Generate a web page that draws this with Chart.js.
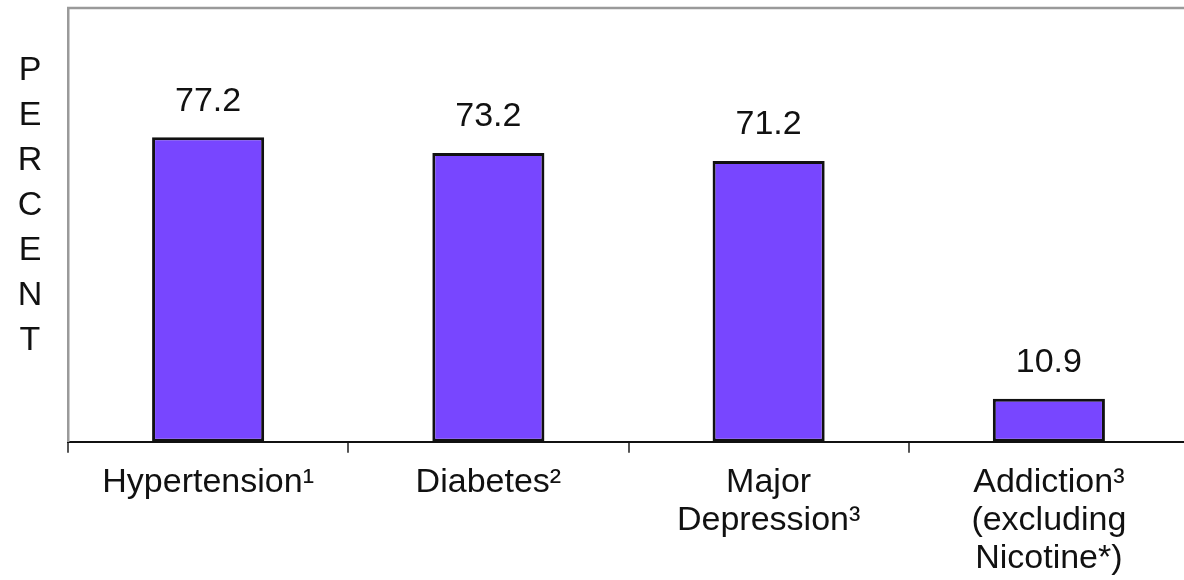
<!DOCTYPE html>
<html>
<head>
<meta charset="utf-8">
<script src="https://cdn.jsdelivr.net/npm/chart.js@4.4.1/dist/chart.umd.min.js"></script>
<style>
  html, body { margin: 0; padding: 0; background: #ffffff; overflow: hidden; }
  #wrap { position: relative; width: 1184px; height: 580px; overflow: hidden; }
</style>
</head>
<body>
<div id="wrap"><canvas id="chart" width="1200" height="593"></canvas></div>
<script>
// Conditions and their percentages
const categories = [
  ['Hypertension\u00B9'],
  ['Diabetes\u00B2'],
  ['Major', 'Depression\u00B3'],
  ['Addiction\u00B3', '(excluding', 'Nicotine*)']
];
const percentValues = [77.2, 73.2, 71.2, 10.9];
const axisTitleLetters = ['P', 'E', 'R', 'C', 'E', 'N', 'T'];
const yAxisMax = 110;

const FONT = '"Liberation Sans", Arial, Helvetica, sans-serif';

// Draws the grey frame on top, the stacked "PERCENT" letters and the value labels
const decorations = {
  id: 'decorations',
  afterDraw(chart) {
    const ctx = chart.ctx;
    const area = chart.chartArea;
    ctx.save();

    // top frame line
    ctx.strokeStyle = '#9a9a9a';
    ctx.lineWidth = 2.5;
    ctx.beginPath();
    ctx.moveTo(area.left - 1, area.top);
    ctx.lineTo(area.right + 20, area.top);
    ctx.stroke();

    // vertical axis title, one letter per row
    ctx.fillStyle = '#111111';
    ctx.font = '34px ' + FONT;
    ctx.textAlign = 'center';
    ctx.textBaseline = 'middle';
    axisTitleLetters.forEach((ch, i) => {
      ctx.fillText(ch, 30, area.top + 63 + i * 45);
    });

    // value labels above each bar
    const meta = chart.getDatasetMeta(0);
    meta.data.forEach((bar, i) => {
      ctx.fillText(percentValues[i].toFixed(1), bar.x, bar.y - 36);
    });
    ctx.restore();
  }
};

new Chart(document.getElementById('chart'), {
  type: 'bar',
  data: {
    labels: categories,
    datasets: [{
      data: percentValues,
      backgroundColor: '#7846ff',
      borderColor: '#111111',
      borderWidth: 3,
      borderSkipped: false,
      categoryPercentage: 1.0,
      barPercentage: 0.4
    }]
  },
  options: {
    responsive: false,
    animation: false,
    devicePixelRatio: 1,
    layout: { padding: { left: 68, top: 8, right: 11, bottom: 5 } },
    plugins: {
      legend: { display: false },
      tooltip: { enabled: false }
    },
    scales: {
      x: {
        grid: {
          display: true,
          drawOnChartArea: false,
          drawTicks: true,
          tickLength: 11,
          color: '#555555',
          lineWidth: 2
        },
        border: { display: true, color: '#111111', width: 2 },
        ticks: {
          color: '#111111',
          padding: 10.5,
          maxRotation: 0,
          autoSkip: false,
          font: { family: FONT, size: 34, lineHeight: 1.12 }
        }
      },
      y: {
        min: 0,
        max: yAxisMax,
        grid: { display: false, drawTicks: false },
        border: { display: true, color: '#9a9a9a', width: 2.5 },
        ticks: { display: false }
      }
    }
  },
  plugins: [decorations]
});
</script>
</body>
</html>
